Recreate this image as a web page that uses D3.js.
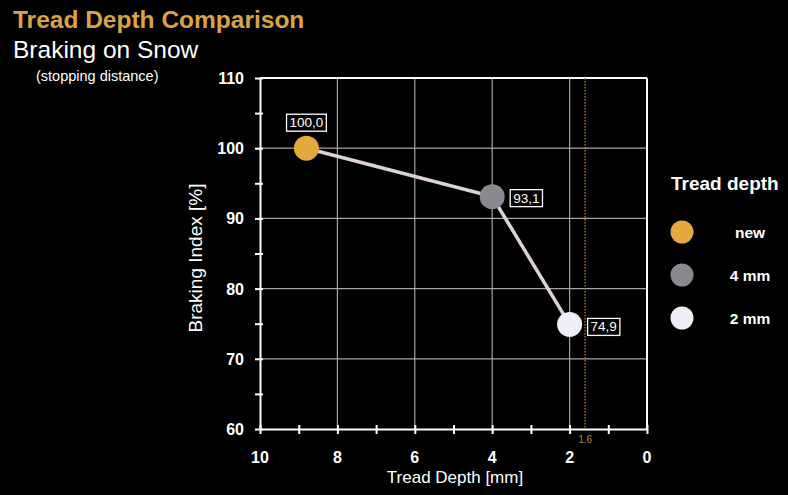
<!DOCTYPE html>
<html><head><meta charset="utf-8">
<script src="https://cdn.jsdelivr.net/npm/d3@7"></script>
<style>html,body{margin:0;padding:0;background:#000;}svg{display:block;font-family:"Liberation Sans",Arial,sans-serif;}</style>
</head><body>
<script>
const categories = ["new", "4 mm", "2 mm"];
const treadDepth = [8.8, 4.0, 2.0];
const brakingIndex = [100.0, 93.1, 74.9];
const valueLabels = ["100,0", "93,1", "74,9"];
const pointColors = ["#e3a83e", "#8b898f", "#eeeff6"];
const xTicks = [10, 8, 6, 4, 2, 0];
const yTicks = [60, 70, 80, 90, 100, 110];
const legalLimit = 1.6;

const W = 788, H = 495;
const svg = d3.select("body").append("svg").attr("width", W).attr("height", H);
svg.append("rect").attr("width", W).attr("height", H).attr("fill", "#000");

const x = d3.scaleLinear().domain([10, 0]).range([260, 647]);
const y = d3.scaleLinear().domain([60, 110]).range([429, 78]);

// titles
svg.append("text").attr("x", 13).attr("y", 28).attr("fill", "#d9a441")
  .attr("font-size", 24.5).attr("font-weight", "bold").text("Tread Depth Comparison");
svg.append("text").attr("x", 13).attr("y", 58).attr("fill", "#fff")
  .attr("font-size", 24.5).text("Braking on Snow");
svg.append("text").attr("x", 36).attr("y", 81).attr("fill", "#fff")
  .attr("font-size", 14.5).text("(stopping distance)");

// grid
const grid = svg.append("g");
grid.selectAll("line.v").data(xTicks.filter(d => d > 0 && d < 10)).enter().append("line")
  .attr("x1", d => x(d)).attr("x2", d => x(d)).attr("y1", y(110)).attr("y2", y(60))
  .attr("stroke", "#a3a3aa").attr("stroke-width", 1.2);
grid.selectAll("line.h").data(yTicks.filter(d => d > 60 && d < 110)).enter().append("line")
  .attr("x1", x(10)).attr("x2", x(0)).attr("y1", d => y(d)).attr("y2", d => y(d))
  .attr("stroke", "#a3a3aa").attr("stroke-width", 1.2);
// frame top & right
svg.append("line").attr("x1", x(10)).attr("x2", x(0)).attr("y1", y(110)).attr("y2", y(110))
  .attr("stroke", "#fff").attr("stroke-width", 2);
svg.append("line").attr("x1", x(0)).attr("x2", x(0)).attr("y1", y(110)).attr("y2", y(60))
  .attr("stroke", "#fff").attr("stroke-width", 2);

// legal limit dotted line
svg.append("line").attr("x1", x(legalLimit)).attr("x2", x(legalLimit)).attr("y1", y(110)).attr("y2", y(60))
  .attr("stroke", "#b9822f").attr("stroke-width", 1.3).attr("stroke-dasharray", "1.5,1.5");
svg.append("text").attr("x", x(legalLimit)).attr("y", 443).attr("text-anchor", "middle")
  .attr("fill", "#b9822f").attr("font-size", 10).text("1.6");

// axes
const xAxis = d3.axisBottom(x).tickValues(d3.range(0, 11, 1)).tickSize(0).tickFormat("");
const gx = svg.append("g").attr("transform", `translate(0,${y(60)})`).call(xAxis);
gx.select(".domain").attr("stroke", "#fff").attr("stroke-width", 2);
gx.selectAll(".tick line").attr("stroke", "#fff").attr("stroke-width", 2)
  .attr("y1", -4).attr("y2", 5);
const xl = svg.append("g");
xl.selectAll("text").data(xTicks).enter().append("text")
  .attr("x", d => x(d)).attr("y", 463).attr("text-anchor", "middle")
  .attr("fill", "#fff").attr("font-size", 16).attr("font-weight", "bold").text(d => d);

const yAxis = d3.axisLeft(y).tickValues(d3.range(60, 111, 5)).tickSize(0).tickFormat("");
const gy = svg.append("g").attr("transform", `translate(${x(10)},0)`).call(yAxis);
gy.select(".domain").attr("stroke", "#fff").attr("stroke-width", 2);
gy.selectAll(".tick line").attr("stroke", "#fff").attr("stroke-width", 2)
  .attr("x1", -5).attr("x2", 3);
const yl = svg.append("g");
yl.selectAll("text").data(yTicks).enter().append("text")
  .attr("x", 244).attr("y", d => y(d) + 6).attr("text-anchor", "end")
  .attr("fill", "#fff").attr("font-size", 16).attr("font-weight", "bold").text(d => d);

svg.append("text").attr("x", 455).attr("y", 483).attr("text-anchor", "middle")
  .attr("fill", "#fff").attr("font-size", 17).text("Tread Depth [mm]");
svg.append("text").attr("transform", `translate(202,258) rotate(-90)`).attr("text-anchor", "middle")
  .attr("fill", "#fff").attr("font-size", 19).text("Braking Index [%]");

// line
const pts = treadDepth.map((d, i) => [x(d), y(brakingIndex[i])]);
svg.append("path").attr("d", d3.line()(pts)).attr("fill", "none")
  .attr("stroke", "#dcd2cf").attr("stroke-width", 3.5);

// points
svg.selectAll("circle.pt").data(pts).enter().append("circle")
  .attr("cx", d => d[0]).attr("cy", d => d[1]).attr("r", 12.5)
  .attr("fill", (d, i) => pointColors[i]);

// value labels
const offs = [[0, -26, "middle"], [18, 1, "start"], [18, 2, "start"]];
pts.forEach((p, i) => {
  const g = svg.append("g");
  const t = g.append("text").attr("fill", "#fff").attr("font-size", 13.5)
    .attr("text-anchor", offs[i][2])
    .attr("x", p[0] + offs[i][0] + (offs[i][2] === "start" ? 3 : 0))
    .attr("y", p[1] + offs[i][1] + 5).text(valueLabels[i]);
  const b = t.node().getBBox();
  g.insert("rect", "text").attr("x", b.x - 3).attr("y", b.y - 1)
    .attr("width", b.width + 6).attr("height", b.height + 2)
    .attr("fill", "#000").attr("stroke", "#fff").attr("stroke-width", 1.3);
});

// legend
svg.append("text").attr("x", 671).attr("y", 190).attr("fill", "#fff")
  .attr("font-size", 19).attr("font-weight", "bold").text("Tread depth");
categories.forEach((c, i) => {
  const cy = 232 + i * 43;
  svg.append("circle").attr("cx", 682).attr("cy", cy).attr("r", 11.5).attr("fill", pointColors[i]);
  svg.append("text").attr("x", 750).attr("y", cy + 6).attr("text-anchor", "middle")
    .attr("fill", "#fff").attr("font-size", 15.5).attr("font-weight", "bold").text(c);
});
</script>
</body></html>
